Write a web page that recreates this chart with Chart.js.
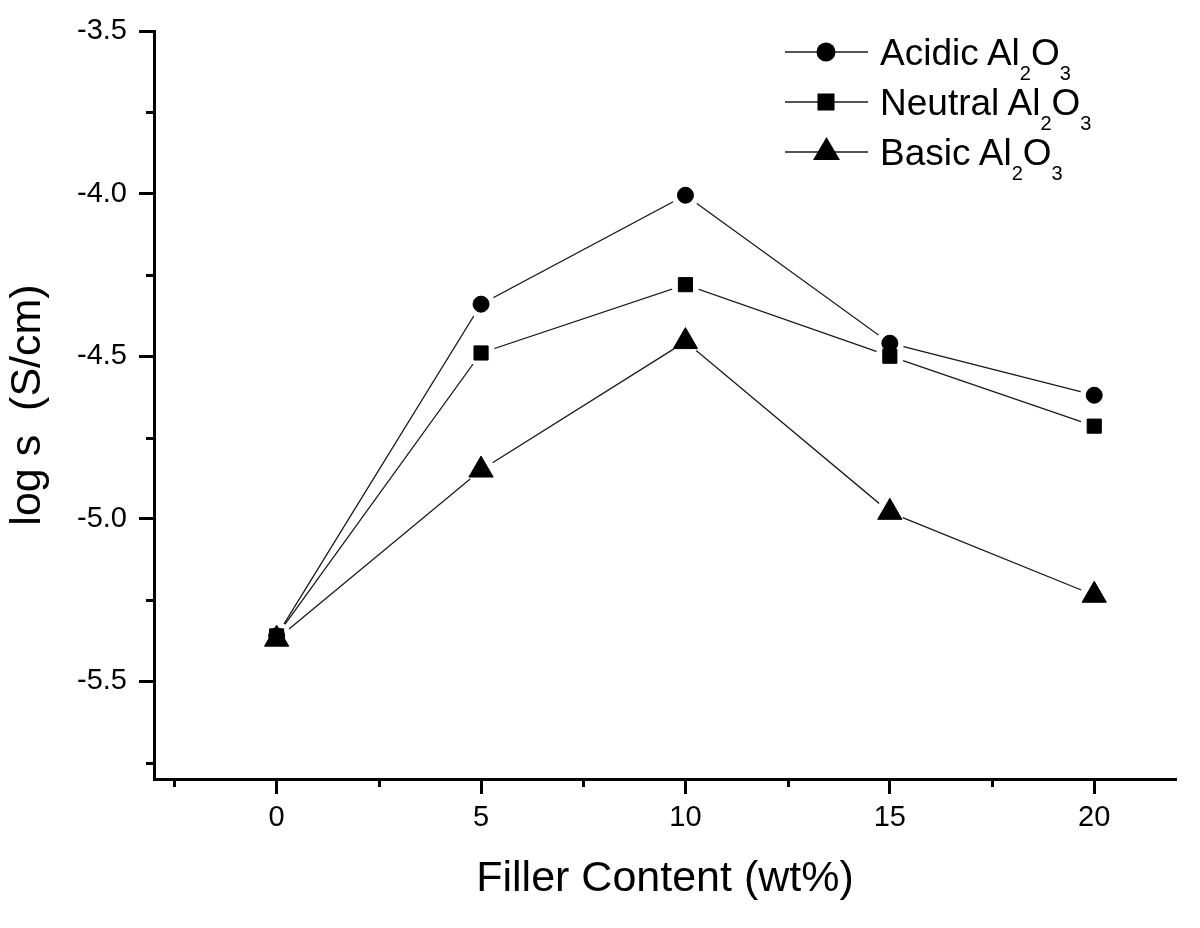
<!DOCTYPE html>
<html>
<head>
<meta charset="utf-8">
<script src="https://cdn.jsdelivr.net/npm/chart.js@4.4.1/dist/chart.umd.min.js"></script>
<style>
html,body{margin:0;padding:0;background:#fff;}
#wrap{position:relative;width:1200px;height:928px;}
#c{position:absolute;left:0;top:0;}
#legend{position:absolute;left:0;top:0;pointer-events:none;}
</style>
</head>
<body>
<div id="wrap">
<canvas id="c" width="1200" height="928"></canvas>
<svg id="legend" width="1200" height="928" xmlns="http://www.w3.org/2000/svg" font-family="'Liberation Sans', Arial, sans-serif" fill="#000">
  <g stroke="#1a1a1a" stroke-width="1.3">
    <line x1="785" y1="52" x2="868" y2="52"/>
    <line x1="785" y1="102" x2="868" y2="102"/>
    <line x1="785" y1="152" x2="868" y2="152"/>
  </g>
  <circle cx="826" cy="52" r="9.5" fill="#000"/>
  <rect x="817.5" y="93.5" width="17" height="17" fill="#000"/>
  <polygon points="826.5,137 840,160 813,160" fill="#000"/>
  <text x="880" y="65" font-size="37">Acidic Al<tspan font-size="20" dy="15">2</tspan><tspan dy="-15">O</tspan><tspan font-size="20" dy="15">3</tspan></text>
  <text x="880" y="115" font-size="37">Neutral Al<tspan font-size="20" dy="15">2</tspan><tspan dy="-15">O</tspan><tspan font-size="20" dy="15">3</tspan></text>
  <text x="880" y="165" font-size="37">Basic Al<tspan font-size="20" dy="15">2</tspan><tspan dy="-15">O</tspan><tspan font-size="20" dy="15">3</tspan></text>
</svg>
</div>
<script>
// ---- data ----
const fillerContent = [0, 5, 10, 15, 20];
const acidic  = [-5.36, -4.34, -4.005, -4.46, -4.62];
const neutral = [-5.36, -4.49, -4.28, -4.50, -4.715];
const basic   = [-5.37, -4.85, -4.455, -4.98, -5.235];
const seriesNames = ['Acidic Al2O3', 'Neutral Al2O3', 'Basic Al2O3'];
const xTickValues = [0, 5, 10, 15, 20];
const xMinorTickValues = [-2.5, 2.5, 7.5, 12.5, 17.5];
const yTickValues = [-5.5, -5.0, -4.5, -4.0, -3.5];
const yMinorTickValues = [-5.75, -5.25, -4.75, -4.25, -3.75];

const FONT = "'Liberation Sans', Arial, sans-serif";
Chart.defaults.font.family = FONT;
Chart.defaults.color = '#000';

const toPts = arr => fillerContent.map((x, i) => ({x: x, y: arr[i]}));
const seriesData = [acidic, neutral, basic];
const markerStyles = [
  {style: 'circle', r: 8},
  {style: 'rect', r: 10},
  {style: 'triangle', r: 14}
];

const datasets = [];
seriesData.forEach((arr, i) => {
  datasets.push({label: seriesNames[i] + ' line', data: toPts(arr), showLine: true,
    borderColor: '#1a1a1a', borderWidth: 1.3, pointRadius: 0, fill: false, order: 2});
  datasets.push({label: seriesNames[i] + ' gap', data: toPts(arr), showLine: false,
    pointStyle: 'circle', pointRadius: 14, pointBackgroundColor: '#fff', pointBorderWidth: 0, order: 1});
  datasets.push({label: seriesNames[i], data: toPts(arr), showLine: false,
    pointStyle: markerStyles[i].style, pointRadius: markerStyles[i].r,
    pointBackgroundColor: '#000', pointBorderColor: '#000', pointBorderWidth: 1, order: 0});
});

const minorTicks = {
  id: 'minorTicks',
  afterDraw(chart) {
    const {ctx, chartArea: a, scales: {x, y}} = chart;
    ctx.save();
    ctx.strokeStyle = '#000';
    ctx.lineWidth = 3;
    yMinorTickValues.forEach(v => {
      const p = Math.round(y.getPixelForValue(v)) + 0.5;
      ctx.beginPath(); ctx.moveTo(a.left - 8, p); ctx.lineTo(a.left, p); ctx.stroke();
    });
    xMinorTickValues.forEach(v => {
      const p = Math.round(x.getPixelForValue(v)) + 0.5;
      ctx.beginPath(); ctx.moveTo(p, a.bottom); ctx.lineTo(p, a.bottom + 8); ctx.stroke();
    });
    ctx.restore();
  }
};

new Chart(document.getElementById('c'), {
  type: 'scatter',
  data: {datasets: datasets},
  plugins: [minorTicks],
  options: {
    responsive: false,
    animation: false,
    events: [],
    layout: {padding: {top: 31, right: 24, left: 0, bottom: 0}},
    plugins: {legend: {display: false}, tooltip: {enabled: false}},
    scales: {
      x: {
        type: 'linear', min: -3, max: 22,
        afterBuildTicks: s => { s.ticks = xTickValues.map(v => ({value: v})); },
        afterFit: s => { s.height = 149; },
        ticks: {font: {size: 29}, color: '#000', padding: 7, maxRotation: 0, autoSkip: false,
          callback: v => String(v)},
        grid: {display: true, drawOnChartArea: false, drawTicks: true, tickLength: 15, tickWidth: 3, tickColor: '#000'},
        border: {display: true, width: 3, color: '#000'},
        title: {display: true, text: 'Filler Content (wt%)', font: {size: 43}, color: '#000',
          padding: {top: 0, bottom: 23}}
      },
      y: {
        type: 'linear', min: -5.8, max: -3.5,
        afterBuildTicks: s => { s.ticks = yTickValues.map(v => ({value: v})); },
        afterFit: s => { s.width = 154; },
        ticks: {font: {size: 29}, color: '#000', padding: 12, autoSkip: false,
          callback: v => Number(v).toFixed(1)},
        grid: {display: true, drawOnChartArea: false, drawTicks: true, tickLength: 15, tickWidth: 3, tickColor: '#000'},
        border: {display: true, width: 3, color: '#000'},
        title: {display: true, text: 'log s  (S/cm)', font: {size: 43}, color: '#000',
          padding: {top: 2, bottom: 0}}
      }
    }
  }
});
</script>
</body>
</html>
